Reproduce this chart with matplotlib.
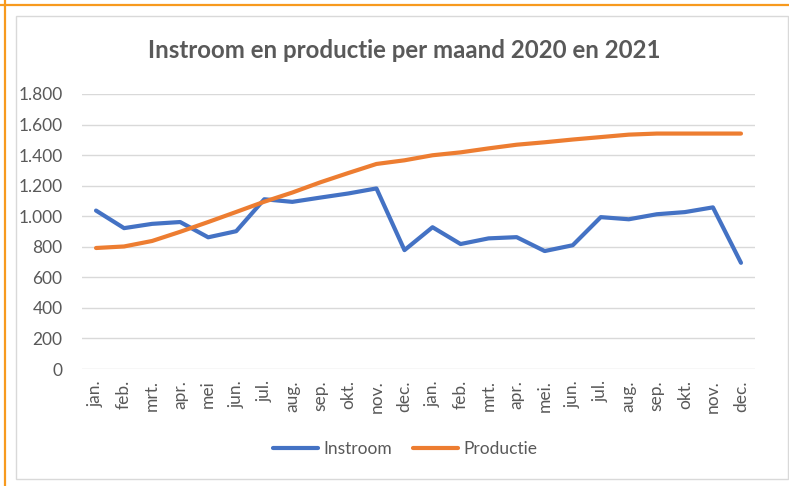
import matplotlib.pyplot as plt
import matplotlib.patches as patches
from matplotlib.lines import Line2D

plt.rcParams['font.family'] = ['Lato', 'DejaVu Sans']

months = ['jan.', 'feb.', 'mrt.', 'apr.', 'mei', 'jun.', 'jul.', 'aug.', 'sep.', 'okt.', 'nov.', 'dec.',
          'jan.', 'feb.', 'mrt.', 'apr.', 'mei.', 'jun.', 'jul.', 'aug.', 'sep.', 'okt.', 'nov.', 'dec.']

instroom = [1037, 922, 950, 962, 862, 902, 1111, 1094, 1122, 1149, 1182, 778,
            928, 818, 855, 863, 772, 810, 994, 980, 1013, 1027, 1058, 695]
productie = [792, 802, 838, 898, 962, 1028, 1095, 1155, 1222, 1283, 1342, 1366,
             1399, 1418, 1444, 1468, 1484, 1502, 1518, 1534, 1541, 1541, 1541, 1541]

yticks = [0, 200, 400, 600, 800, 1000, 1200, 1400, 1600, 1800]
ytick_labels = ['0', '200', '400', '600', '800', '1.000', '1.200', '1.400', '1.600', '1.800']

blue = '#4472C4'
orange = '#ED7D31'
grey = '#595959'

W, H = 789, 486
fig = plt.figure(figsize=(W / 100, H / 100), dpi=100)

# outer orange selection frame and grey chart frame
fig.add_artist(Line2D([0, 1], [1 - 5 / H, 1 - 5 / H], color='#F79A1E', lw=1.6))
fig.add_artist(Line2D([5 / W, 5 / W], [0, 1], color='#F79A1E', lw=1.6))
fig.add_artist(patches.Rectangle((16 / W, 1 - 479 / H), (788 - 16) / W, (479 - 16) / H,
                                 fill=False, edgecolor='#D9D9D9', lw=1.0))

ax = fig.add_axes([82 / W, 1 - 369 / H, (755 - 82) / W, (369 - 94) / H])
x = range(len(months))
ax.plot(x, instroom, color=blue, lw=3.0, solid_joinstyle='round', solid_capstyle='round', label='Instroom')
ax.plot(x, productie, color=orange, lw=3.0, solid_joinstyle='round', solid_capstyle='round', label='Productie')

ax.set_xlim(-0.5, len(months) - 0.5)
ax.set_ylim(0, 1800)
ax.set_yticks(yticks)
ax.set_yticklabels(ytick_labels)
ax.set_xticks(list(x))
ax.set_xticklabels(months, rotation=90)
ax.tick_params(axis='both', length=0, labelsize=12.5, colors=grey)
ax.tick_params(axis='y', pad=14)
ax.tick_params(axis='x', pad=8)
ax.grid(axis='y', color='#D9D9D9', lw=1.0)
ax.set_axisbelow(True)
for s in ax.spines.values():
    s.set_visible(False)

fig.text(404 / W, 1 - 50 / H, 'Instroom en productie per maand 2020 en 2021',
         ha='center', va='center', fontsize=17.3, fontweight='bold', color=grey)

fig.legend(loc='center', bbox_to_anchor=(405 / W, 1 - 449 / H), ncol=2, frameon=False,
           fontsize=12.5, labelcolor=grey, handlelength=2.6, handletextpad=0.3, columnspacing=1.2)

plt.savefig('out.png', dpi=100)
